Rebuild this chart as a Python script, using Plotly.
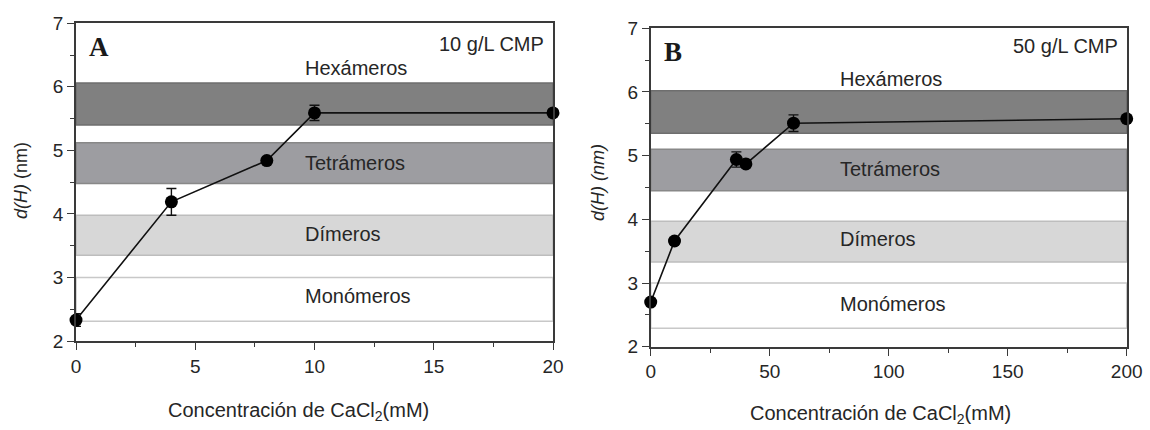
import plotly.graph_objects as go

# ---------------- data ----------------
conc_A = [0, 4, 8, 10, 20]
size_A = [2.33, 4.19, 4.84, 5.59, 5.59]
err_A = [0.10, 0.21, 0.03, 0.12, 0.02]

conc_B = [0, 10, 36, 40, 60, 200]
size_B = [2.70, 3.66, 4.94, 4.87, 5.51, 5.58]
err_B = [0.05, 0.05, 0.12, 0.05, 0.13, 0.03]

band_names = ["Hexámeros", "Tetrámeros", "Dímeros", "Monómeros"]
band_low_A = [5.40, 4.48, 3.35, 2.31]
band_high_A = [6.06, 5.12, 3.98, 3.00]
band_low_B = [5.35, 4.45, 3.33, 2.29]
band_high_B = [6.02, 5.10, 3.97, 3.00]

panel_labels = ["A", "B"]
conc_labels = ["10 g/L CMP", "50 g/L CMP"]

# ---------------- styles ----------------
W, H = 1150, 430
band_fill = ["#808080", "#9d9da1", "#d7d7d7", "#ffffff"]
band_line = ["#6e6e6e", "#888888", "#bdbdbd", "#c8c8c8"]
FONT = "Liberation Sans, Arial, sans-serif"
SERIF = "Liberation Serif, Times New Roman, serif"
TXT = "#262626"
AX = "#3a3a3a"


def px_x(p):
    return p / W


def px_y(p):
    return 1 - p / H


def note(xp, yp, text, size=18, family=FONT, xanchor="center", angle=0, color=TXT):
    return dict(xref="paper", yref="paper", x=px_x(xp), y=px_y(yp), text=text,
                showarrow=False, xanchor=xanchor, yanchor="middle", textangle=angle,
                font=dict(family=family, size=size, color=color))


fig = go.Figure()

panels = [
    dict(x=conc_A, y=size_A, e=err_A, lo=band_low_A, hi=band_high_A,
         xa="x", ya="y", dom_x=[76 / W, 553 / W], dom_y=[px_y(341), px_y(23.3)],
         xr=[0, 20], dt=5, mdt=2.5, lab_x=9.5, lab_y=[6.30, 4.80, 3.68, 2.71]),
    dict(x=conc_B, y=size_B, e=err_B, lo=band_low_B, hi=band_high_B,
         xa="x2", ya="y2", dom_x=[650.7 / W, 1126.7 / W], dom_y=[px_y(346.7), px_y(28.3)],
         xr=[0, 200], dt=50, mdt=25, lab_x=78.7, lab_y=[6.20, 4.79, 3.69, 2.67]),
]

shapes = []
annotations = []
for i, p in enumerate(panels):
    fig.add_trace(go.Scatter(
        x=p["x"], y=p["y"], xaxis=p["xa"], yaxis=p["ya"],
        mode="lines+markers",
        line=dict(color="#111111", width=1.6),
        marker=dict(color="#000000", size=13),
        error_y=dict(type="data", array=p["e"], color="#111111", thickness=1.4, width=5),
        cliponaxis=False, showlegend=False, hoverinfo="x+y",
    ))
    xd = p["xa"] + " domain"
    for k in range(len(band_names)):
        shapes.append(dict(type="rect", xref=xd, yref=p["ya"], x0=0, x1=1,
                           y0=p["lo"][k], y1=p["hi"][k], fillcolor=band_fill[k],
                           line=dict(color=band_line[k], width=1.5), layer="below"))
        annotations.append(dict(xref=p["xa"], yref=p["ya"], x=p["lab_x"], y=p["lab_y"][k],
                                text=band_names[k], showarrow=False, xanchor="left",
                                yanchor="middle", font=dict(family=FONT, size=20, color=TXT)))

    axn = "" if i == 0 else "2"
    common = dict(showgrid=False, zeroline=False, showline=True, linecolor=AX,
                  linewidth=1.6, mirror=True, ticks="outside", ticklen=7, tickwidth=1.4,
                  tickcolor=AX, tickfont=dict(family=FONT, size=19, color=TXT),
                  automargin=False)
    fig.update_layout(**{
        "xaxis" + axn: dict(domain=p["dom_x"], range=p["xr"], dtick=p["dt"], tick0=0,
                            anchor="y" + axn,
                            minor=dict(dtick=p["mdt"], ticks="outside", ticklen=4,
                                       tickcolor=AX, tickwidth=1.2),
                            **common),
        "yaxis" + axn: dict(domain=p["dom_y"], range=[2, 7], dtick=1, tick0=0,
                            anchor="x" + axn,
                            minor=dict(dtick=0.5, ticks="outside", ticklen=4,
                                       tickcolor=AX, tickwidth=1.2),
                            **common),
    })

annotations += [
    note(99, 46.7, "<b>" + panel_labels[0] + "</b>", size=27, family=SERIF, color="#1a1a1a"),
    note(673, 52, "<b>" + panel_labels[1] + "</b>", size=27, family=SERIF, color="#1a1a1a"),
    note(546, 43.5, conc_labels[0], size=20, xanchor="right"),
    note(1120, 46, conc_labels[1], size=20, xanchor="right"),
    note(298, 411.7, "Concentración de CaCl<sub>2</sub>(mM)", size=20),
    note(880, 414, "Concentración de CaCl<sub>2</sub>(mM)", size=20),
    note(21, 181, "<i>d(H)</i> (nm)", size=18, angle=-90),
    note(598, 183, "<i>d(H) (nm)</i>", size=18, angle=-90),
]

fig.update_layout(
    width=W, height=H, template="none",
    margin=dict(l=0, r=0, t=0, b=0, autoexpand=False),
    paper_bgcolor="white", plot_bgcolor="white",
    shapes=shapes, annotations=annotations, showlegend=False,
)

fig.write_html(
    "out.html",
    config={"displayModeBar": False},
    post_script="document.body.style.margin='0px';document.body.style.overflow='hidden';",
)
